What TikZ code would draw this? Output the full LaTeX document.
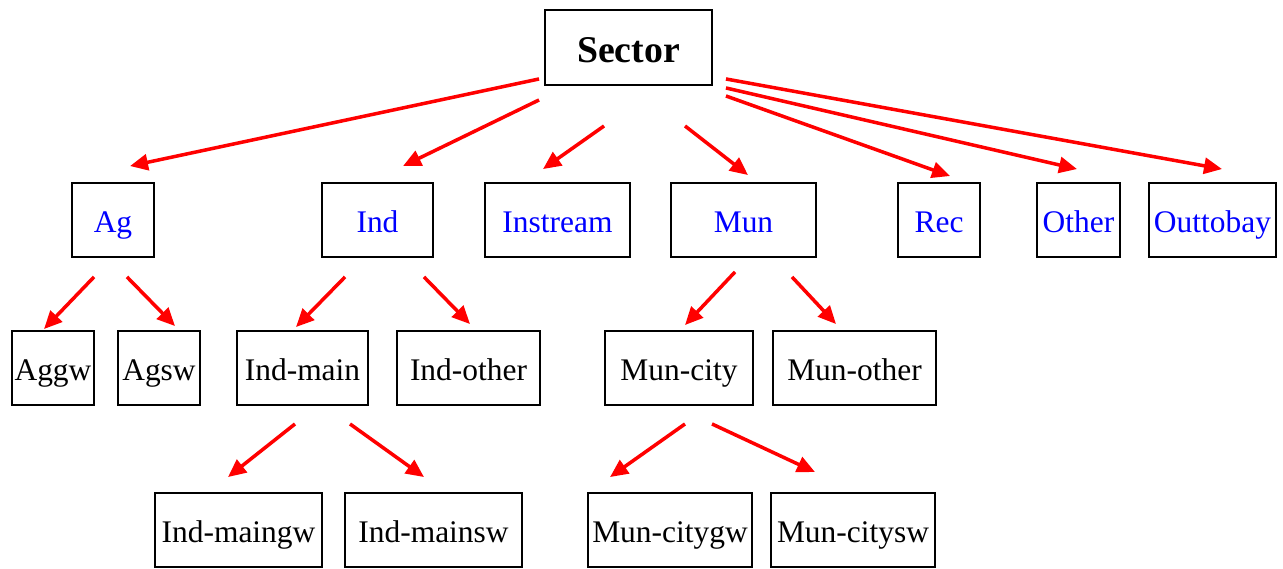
\documentclass[tikz,border=0pt]{standalone}
\usepackage{fontspec}
\setmainfont{Liberation Serif}
\usetikzlibrary{arrows.meta}
\usetikzlibrary{calc}

\begin{document}
\begin{tikzpicture}[x=0.02cm, y=-0.02cm,
        root_style/.style={rectangle,draw=black,line width=1.1pt,minimum height=1.5cm,inner sep=0pt,text height=0.6cm,text depth=0pt,font=\fontsize{21.5}{25}\selectfont\bfseries},
        sector_style/.style={rectangle,draw=black,line width=1.1pt,minimum height=1.48cm,inner sep=0pt,text height=0.48cm,text depth=0pt,text=blue,font=\fontsize{17.9}{21}\selectfont},
        leaf_style/.style={rectangle,draw=black,line width=1.1pt,minimum height=1.48cm,inner sep=0pt,text height=0.48cm,text depth=0pt,font=\fontsize{17.9}{21}\selectfont},
        edge_style/.style={draw=red, line width=2pt, -{Triangle[length=0.36cm,width=0.32cm]}}]

        \useasboundingbox (0,0) rectangle (1283,568);

        \node [root_style, minimum width=3.34cm](sector) at (628.5,47.5) {Sector};

        \node [sector_style, minimum width=1.64cm](ag) at (113,220) {Ag};

        \node [sector_style, minimum width=2.22cm](ind) at (377.5,220) {Ind};

        \node [sector_style, minimum width=2.9cm](instream) at (557.5,220) {Instream};

        \node [sector_style, minimum width=2.9cm](mun) at (743.5,220) {Mun};

        \node [sector_style, minimum width=1.64cm](rec) at (939,220) {Rec};

        \node [sector_style, minimum width=1.66cm](other) at (1078.5,220) {Other};

        \node [sector_style, minimum width=2.54cm](outtobay) at (1212.5,220) {Outtobay};

        \node [leaf_style, minimum width=1.64cm](aggw) at (53,368) {Aggw};

        \node [leaf_style, minimum width=1.64cm](agsw) at (159,368) {Agsw};

        \node [leaf_style, minimum width=2.62cm](indmain) at (302.5,368) {Ind-main};

        \node [leaf_style, minimum width=2.86cm](indother) at (468.5,368) {Ind-other};

        \node [leaf_style, minimum width=2.96cm](muncity) at (679,368) {Mun-city};

        \node [leaf_style, minimum width=3.26cm](munother) at (854.5,368) {Mun-other};

        \node [leaf_style, minimum width=3.34cm](indmaingw) at (238.5,530) {Ind-maingw};

        \node [leaf_style, minimum width=3.54cm](indmainsw) at (433.5,530) {Ind-mainsw};

        \node [leaf_style, minimum width=3.28cm](muncitygw) at (670,530) {Mun-citygw};

        \node [leaf_style, minimum width=3.28cm](muncitysw) at (853,530) {Mun-citysw};

        \draw [edge_style] ($(sector.south west)+(-5,-7)$) -- ($(ag.north)+(17,-16)$);

        \draw [edge_style] ($(sector.south west)+(-5,14)$) -- ($(ind.north)+(25.5,-16)$);

        \draw [edge_style] ($(sector.south west)+(60,40)$) -- ($(instream.north)+(-14.5,-13)$);

        \draw [edge_style] ($(sector.south)+(56.5,40)$) -- ($(mun.north)+(4.5,-7)$);

        \draw [edge_style] ($(sector.south east)+(13,10)$) -- ($(rec.north)+(11,-6)$);

        \draw [edge_style] ($(sector.south east)+(13,2)$) -- ($(other.north)+(-1.5,-13)$);

        \draw [edge_style] ($(sector.south east)+(13,-7)$) -- ($(outtobay.north)+(9.5,-13)$);

        \draw [edge_style] ($(ag.south)+(-19,19)$) -- ($(aggw.north)+(-9,-1)$);

        \draw [edge_style] ($(ag.south)+(14,19)$) -- ($(agsw.north)+(16,-4)$);

        \draw [edge_style] ($(ind.south)+(-32.5,19)$) -- ($(indmain.north)+(-6.5,-3)$);

        \draw [edge_style] ($(ind.south)+(46.5,19)$) -- ($(indother.north)+(1.5,-6)$);

        \draw [edge_style] ($(mun.south)+(-8.5,14)$) -- ($(muncity.north)+(6,-5)$);

        \draw [edge_style] ($(mun.south)+(48.5,19)$) -- ($(munother.north)+(-18.5,-6)$);

        \draw [edge_style] ($(indmain.south)+(-7.5,18)$) -- ($(indmaingw.north)+(-10.5,-15)$);

        \draw [edge_style] ($(indmain.south)+(47.5,18)$) -- ($(indmainsw.north)+(-9.5,-15)$);

        \draw [edge_style] ($(muncity.south)+(6,18)$) -- ($(muncitygw.north)+(-60,-15)$);

        \draw [edge_style] ($(muncity.south)+(33,18)$) -- ($(muncitysw.north)+(-38,-20)$);

        \end{tikzpicture}
\end{document}
